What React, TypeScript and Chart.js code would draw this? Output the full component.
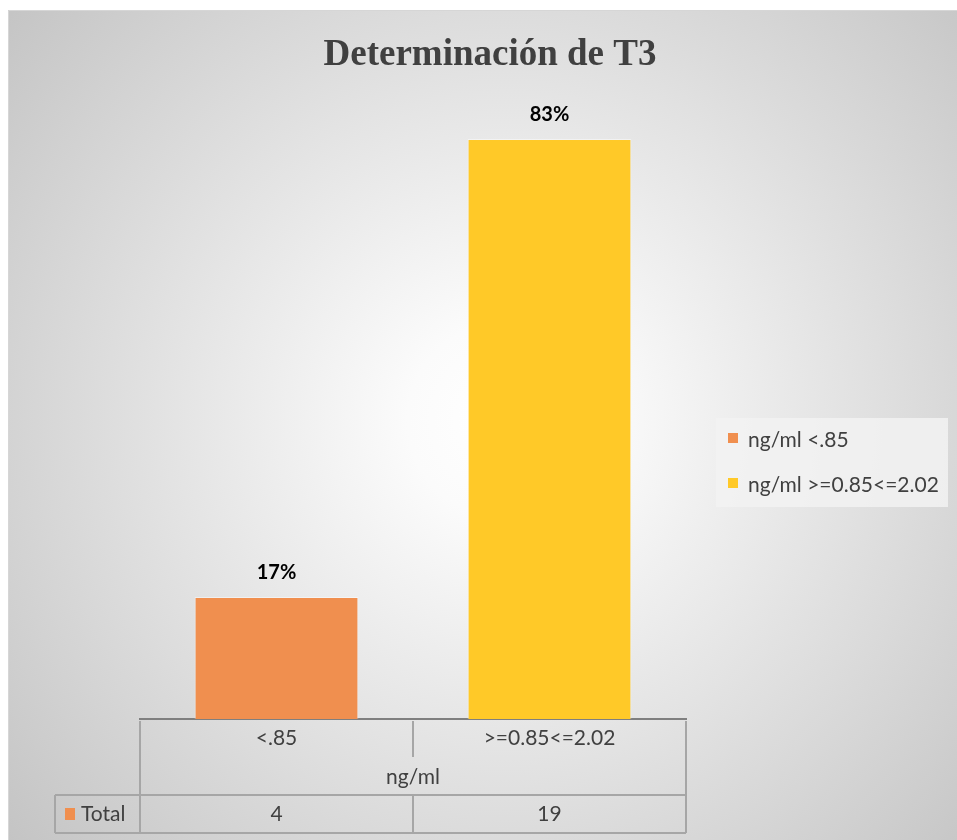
import React, { useEffect, useRef } from 'react';
import { Chart, registerables } from 'chart.js';

Chart.register(...registerables);

// ---- data ----
const chartTitle = 'Determinación de T3';
const categories = ['<.85', '>=0.85<=2.02'];
const categoryGroup = 'ng/ml';
const seriesName = 'Total';
const totals = [4, 19];
const barColors = ['#F08F4F', '#FFC928'];
const yMax = 20;

const SANS = "Lato, 'Open Sans', sans-serif";
const SERIF = "'Liberation Serif', 'DejaVu Serif', serif";
const TEXT = '#404040';
const LINE = '#a6a6a6';

const backgroundPlugin = {
  id: 'bgFrame',
  beforeDraw(chart: any) {
    const { ctx, width, height } = chart;
    ctx.save();
    const cx = 505;
    const cy = 420;
    const g = ctx.createRadialGradient(cx, cy, 0, cx, cy, 650);
    g.addColorStop(0, '#ffffff');
    g.addColorStop(0.15, '#fbfbfb');
    g.addColorStop(1, '#c4c4c4');
    ctx.fillStyle = g;
    ctx.fillRect(8, 10, width - 8, height - 10);
    ctx.strokeStyle = '#d6d6d6';
    ctx.lineWidth = 1;
    ctx.beginPath();
    ctx.moveTo(8.5, height);
    ctx.lineTo(8.5, 10.5);
    ctx.lineTo(width, 10.5);
    ctx.stroke();
    ctx.restore();
  },
};

const tablePlugin = {
  id: 'dataTable',
  afterDraw(chart: any) {
    const { ctx, chartArea } = chart;
    const xs = chart.scales.x;
    const left = chartArea.left;
    const right = chartArea.right;
    const y0 = xs.top;
    const y3 = xs.bottom;
    const rowH = (y3 - y0) / 3;
    const y1 = y0 + rowH;
    const y2 = y0 + 2 * rowH;
    const mid = (xs.getPixelForValue(0) + xs.getPixelForValue(1)) / 2;
    const cellLeft = left - 85;

    ctx.save();
    ctx.strokeStyle = LINE;
    ctx.lineWidth = 2;
    ctx.beginPath();
    // outer verticals
    ctx.moveTo(left, y0 + 2);
    ctx.lineTo(left, y3);
    ctx.moveTo(right, y0 + 2);
    ctx.lineTo(right, y3);
    // middle vertical (category row)
    ctx.moveTo(mid, y0 + 2);
    ctx.lineTo(mid, y1);
    // middle vertical (total row)
    ctx.moveTo(mid, y2);
    ctx.lineTo(mid, y3);
    // horizontals
    ctx.moveTo(cellLeft, y2);
    ctx.lineTo(right, y2);
    ctx.moveTo(cellLeft, y3);
    ctx.lineTo(right, y3);
    // total cell left
    ctx.moveTo(cellLeft, y2);
    ctx.lineTo(cellLeft, y3);
    ctx.stroke();

    const yc = (y2 + y3) / 2;
    ctx.fillStyle = barColors[0];
    ctx.fillRect(cellLeft + 10, yc - 6, 10, 12);
    ctx.fillStyle = TEXT;
    ctx.font = `21px ${SANS}`;
    ctx.textBaseline = 'middle';
    ctx.textAlign = 'left';
    ctx.fillText(seriesName, cellLeft + 26, yc);
    ctx.textAlign = 'center';
    totals.forEach((v, i) => {
      ctx.fillText(String(v), xs.getPixelForValue(i), yc);
    });
    ctx.restore();
  },
};

const legendPlugin = {
  id: 'sideLegend',
  afterDraw(chart: any) {
    const { ctx, chartArea } = chart;
    const boxLeft = chartArea.right + 30;
    const boxTop = 418;
    const boxW = 232;
    const boxH = 89;
    ctx.save();
    ctx.fillStyle = 'rgba(242,242,242,0.85)';
    ctx.fillRect(boxLeft, boxTop, boxW, boxH);
    ctx.font = `21px ${SANS}`;
    ctx.textBaseline = 'middle';
    ctx.textAlign = 'left';
    categories.forEach((c, i) => {
      const y = boxTop + 22 + i * 45;
      ctx.fillStyle = barColors[i];
      ctx.fillRect(boxLeft + 12, y - 7, 10, 10);
      ctx.fillStyle = TEXT;
      ctx.fillText(`${categoryGroup} ${c}`, boxLeft + 32, y);
    });
    ctx.restore();
  },
};

const labelPlugin = {
  id: 'pctLabels',
  afterDatasetsDraw(chart: any) {
    const { ctx } = chart;
    const sum = totals.reduce((a, b) => a + b, 0);
    const meta = chart.getDatasetMeta(0);
    ctx.save();
    ctx.font = `bold 20px ${SANS}`;
    ctx.fillStyle = '#000000';
    ctx.textAlign = 'center';
    ctx.textBaseline = 'middle';
    meta.data.forEach((bar: any, i: number) => {
      const pct = Math.round((totals[i] / sum) * 100);
      ctx.fillText(`${pct}%`, bar.x, bar.y - 24);
    });
    ctx.restore();
  },
};

export default function App() {
  const ref = useRef<HTMLCanvasElement | null>(null);

  useEffect(() => {
    if (!ref.current) return;
    const chart = new Chart(ref.current, {
      type: 'bar',
      data: {
        labels: categories,
        datasets: [
          {
            label: seriesName,
            data: totals,
            backgroundColor: barColors,
            borderColor: 'rgba(255,255,255,0.45)',
            borderWidth: 1,
            barPercentage: 0.6,
            categoryPercentage: 1,
            yAxisID: 'y',
          },
        ],
      },
      options: {
        responsive: false,
        animation: false,
        devicePixelRatio: 1,
        layout: { padding: { left: 23, right: 0, top: 10, bottom: 7 } },
        plugins: {
          legend: { display: false },
          tooltip: { enabled: false },
          title: {
            display: true,
            text: chartTitle,
            color: TEXT,
            font: { family: SERIF, size: 37, weight: 'bold', lineHeight: 1.2 },
            padding: { top: 23, bottom: 31 },
          },
        },
        scales: {
          x: {
            type: 'category',
            grid: { display: false, drawTicks: false },
            border: { display: true, color: '#7f7f7f', width: 2 },
            ticks: {
              color: TEXT,
              font: { family: SANS, size: 21 },
              padding: 7,
              maxRotation: 0,
              autoSkip: false,
            },
            title: {
              display: true,
              text: categoryGroup,
              color: TEXT,
              font: { family: SANS, size: 21 },
              padding: { top: 0, bottom: 43 },
            },
            afterFit: (s: any) => {
              s.height = 114;
            },
          },
          y: {
            min: 0,
            max: yMax,
            grid: { display: false },
            border: { display: false },
            ticks: { display: false },
            afterFit: (s: any) => {
              s.width = 117;
            },
          },
          y2: {
            type: 'linear',
            position: 'right',
            min: 0,
            max: 1,
            grid: { display: false },
            border: { display: false },
            ticks: { display: false },
            afterFit: (s: any) => {
              s.width = 271;
            },
          },
        },
      } as any,
      plugins: [backgroundPlugin, tablePlugin, legendPlugin, labelPlugin],
    });
    return () => chart.destroy();
  }, []);

  return (
    <div style={{ position: 'absolute', left: 0, top: 0, width: 957, height: 840 }}>
      <canvas ref={ref} width={957} height={840} style={{ display: 'block' }} />
    </div>
  );
}
